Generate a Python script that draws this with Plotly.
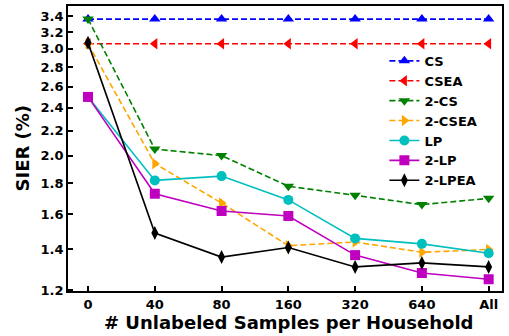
import plotly.graph_objects as go

categories = ["0", "40", "80", "160", "320", "640", "All"]
cs = [3.36, 3.36, 3.36, 3.36, 3.36, 3.36, 3.36]
csea = [3.06, 3.06, 3.06, 3.06, 3.06, 3.06, 3.06]
cs2 = [3.36, 2.05, 2.00, 1.78, 1.72, 1.66, 1.70]
csea2 = [3.06, 1.94, 1.67, 1.42, 1.44, 1.385, 1.40]
lp = [2.50, 1.82, 1.85, 1.69, 1.46, 1.43, 1.38]
lp2 = [2.50, 1.73, 1.62, 1.59, 1.37, 1.28, 1.25]
lpea2 = [3.07, 1.49, 1.36, 1.41, 1.31, 1.33, 1.31]
yticks = [1.2, 1.4, 1.6, 1.8, 2.0, 2.2, 2.4, 2.6, 2.8, 3.0, 3.2, 3.4]

series = [
    ("CS", cs, "#0000ff", "triangle-up", "dash"),
    ("CSEA", csea, "#ff0000", "triangle-left", "dash"),
    ("2-CS", cs2, "#008000", "triangle-down", "dash"),
    ("2-CSEA", csea2, "#ffa500", "triangle-right", "dash"),
    ("LP", lp, "#00bfbf", "circle", "solid"),
    ("2-LP", lp2, "#bf00bf", "square", "solid"),
    ("2-LPEA", lpea2, "#000000", "diamond-tall", "solid"),
]

x_idx = list(range(len(categories)))
fig = go.Figure()
for name, vals, color, sym, dash in series:
    fig.add_trace(go.Scatter(
        x=x_idx, y=vals, name=name, mode="lines+markers",
        line=dict(color=color, width=1.6, dash="6px,3px" if dash == "dash" else "solid"),
        marker=dict(symbol=sym, size=10, color=color),
    ))

fig.update_layout(
    width=509, height=336,
    margin=dict(l=68, r=7, t=6, b=45, autoexpand=False),
    plot_bgcolor="white", paper_bgcolor="white",
    font=dict(family="DejaVu Sans", size=13, color="black"),
    showlegend=True,
    legend=dict(x=0.729, y=0.86, xanchor="left", yanchor="top",
                bgcolor="rgba(255,255,255,0)",
                font=dict(family="DejaVu Sans", size=13, color="black", weight="bold"),
                tracegroupgap=0),
    annotations=[
        dict(text="<b># Unlabeled Samples per Household</b>", xref="paper", yref="paper",
             x=0.509, y=-0.109, xanchor="center", yanchor="middle", showarrow=False,
             font=dict(size=18, family="DejaVu Sans", color="black")),
        dict(text="<b>SIER (%)</b>", xref="paper", yref="paper", textangle=-90,
             x=-0.1037, y=0.5035, xanchor="center", yanchor="middle", showarrow=False,
             font=dict(size=18, family="DejaVu Sans", color="black")),
    ],
)
fig.update_xaxes(
    range=[-0.3, 6.2], tickvals=x_idx, ticktext=["<b>%s</b>" % c for c in categories],
    showgrid=False, zeroline=False, showline=True, linecolor="black", linewidth=1.8,
    mirror=True, ticks="inside", ticklen=5, tickwidth=1.5, tickcolor="black",
    tickfont=dict(size=13), automargin=False,
)
fig.update_yaxes(
    type="log", range=[0.0775, 0.548], tickvals=yticks,
    ticktext=["<b>%.1f</b>" % v for v in yticks],
    showgrid=False, zeroline=False, showline=True, linecolor="black", linewidth=1.8,
    mirror=True, ticks="inside", ticklen=5, tickwidth=1.5, tickcolor="black",
    tickfont=dict(size=13), automargin=False,
)
fig.write_html("out.html", config={"displayModeBar": False},
               post_script="document.body.style.margin='0';document.body.style.overflow='hidden';")
